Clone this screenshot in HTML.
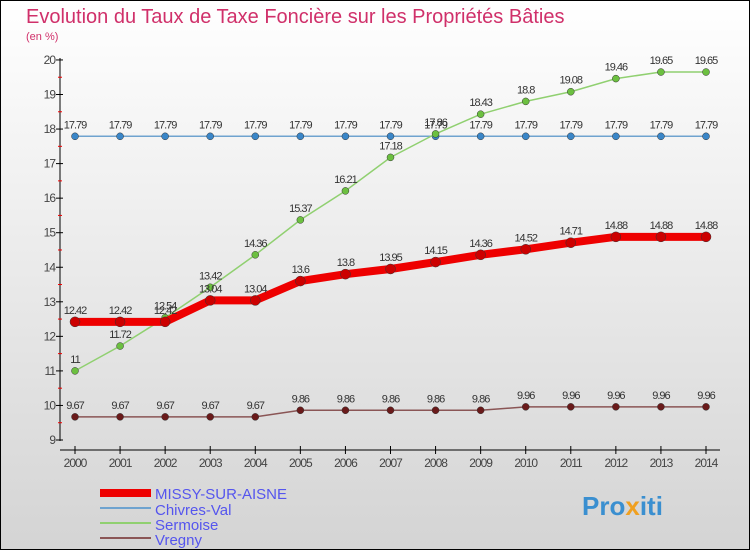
<!DOCTYPE html>
<html><head><meta charset="utf-8"><style>
html,body{margin:0;padding:0}
body{width:750px;height:550px;overflow:hidden;font-family:"Liberation Sans",sans-serif}
svg{display:block}
</style></head><body>
<svg id="c" width="750" height="550" xmlns="http://www.w3.org/2000/svg">
<defs><linearGradient id="bg" x1="0" y1="0" x2="0" y2="1"><stop offset="0" stop-color="#ffffff"/><stop offset="1" stop-color="#d4d4d4"/></linearGradient></defs>
<rect x="0.5" y="0.5" width="749" height="549" fill="url(#bg)" stroke="#000"/>
<text x="26" y="23" font-size="20" fill="#d0306a">Evolution du Taux de Taxe Foncière sur les Propriétés Bâties</text>
<text x="26" y="40" font-size="11" fill="#d0306a">(en %)</text>
<g id="axes"></g><g id="series"></g>
<g>
<rect x="100" y="489" width="51" height="8" fill="#ee0000"/>
<text x="155" y="499" font-size="15" fill="#5555ee">MISSY-SUR-AISNE</text>
<rect x="100" y="507" width="51" height="2" fill="#6fa3cf"/>
<text x="155" y="515" font-size="15" fill="#5555ee">Chivres-Val</text>
<rect x="100" y="522" width="51" height="2" fill="#90d070"/>
<text x="155" y="530" font-size="15" fill="#5555ee">Sermoise</text>
<rect x="100" y="537" width="51" height="2" fill="#8a5555"/>
<text x="155" y="545" font-size="15" fill="#5555ee">Vregny</text>
</g>
<text x="582" y="515" font-size="26" font-weight="bold" fill="#3a8fd0">Pro<tspan fill="#f0a020">x</tspan>iti</text>
</svg>
<script>
const years=[2000,2001,2002,2003,2004,2005,2006,2007,2008,2009,2010,2011,2012,2013,2014];
const yTicks=[9,10,11,12,13,14,15,16,17,18,19,20];
const missy=[12.42,12.42,12.42,13.04,13.04,13.6,13.8,13.95,14.15,14.36,14.52,14.71,14.88,14.88,14.88];
const chivres=[17.79,17.79,17.79,17.79,17.79,17.79,17.79,17.79,17.79,17.79,17.79,17.79,17.79,17.79,17.79];
const sermoise=[11,11.72,12.54,13.42,14.36,15.37,16.21,17.18,17.86,18.43,18.8,19.08,19.46,19.65,19.65];
const vregny=[9.67,9.67,9.67,9.67,9.67,9.86,9.86,9.86,9.86,9.86,9.96,9.96,9.96,9.96,9.96];
const NS="http://www.w3.org/2000/svg";
const X=i=>75+i*(631/14), Y=v=>440-(v-9)*34.55;
function mk(p,t,a){const e=document.createElementNS(NS,t);for(const k in a)e.setAttribute(k,a[k]);p.appendChild(e);return e;}
const ax=document.getElementById('axes'), sg=document.getElementById('series');
let l=mk(ax,'line',{x1:60,y1:58,x2:60,y2:441,stroke:'#000'});


l=mk(ax,'line',{x1:60,y1:450,x2:720,y2:450,stroke:'#000'});


yTicks.forEach(v=>{mk(ax,'line',{x1:56,y1:Y(v),x2:63,y2:Y(v),stroke:'#000'});
 if(v<20)mk(ax,'line',{x1:58,y1:Y(v+0.5),x2:62,y2:Y(v+0.5),stroke:'#e00'});
 const t=mk(ax,'text',{x:55,y:Y(v)+4,'font-size':12,fill:'#444','text-anchor':'end','letter-spacing':'-1'});t.textContent=v;
 
 });
years.forEach((y,i)=>{mk(ax,'line',{x1:X(i),y1:446,x2:X(i),y2:454,stroke:'#000'});
 const t=mk(ax,'text',{x:X(i),y:467,'font-size':12,fill:'#444','text-anchor':'middle','letter-spacing':'-1'});t.textContent=y;
 
 });
function series(d,name,col,w,dot,r,lab){
 const pl=mk(sg,'polyline',{points:d.map((v,i)=>X(i)+','+Y(v)).join(' '),fill:'none',stroke:col,'stroke-width':w});
 
 
 d.forEach((v,i)=>{const c=mk(sg,'circle',{cx:X(i),cy:Y(v),r:r,fill:dot,stroke:'#333','stroke-width':0.5});
  
  
  const t=mk(sg,'text',{x:X(i),y:Y(v)-8,'font-size':11,fill:'#333','text-anchor':'middle','letter-spacing':'-1'});t.textContent=v;
  
  });
}
series(chivres,'chivres','#6fa3cf',1.5,'#3a86c8',3.5);
series(sermoise,'sermoise','#90d070',1.5,'#6cc040',3.5);
series(vregny,'vregny','#8a5555',1.5,'#6a1a1a',3.5);
series(missy,'missy','#ee0000',8,'#cc0000',5);
</script>
</body></html>
